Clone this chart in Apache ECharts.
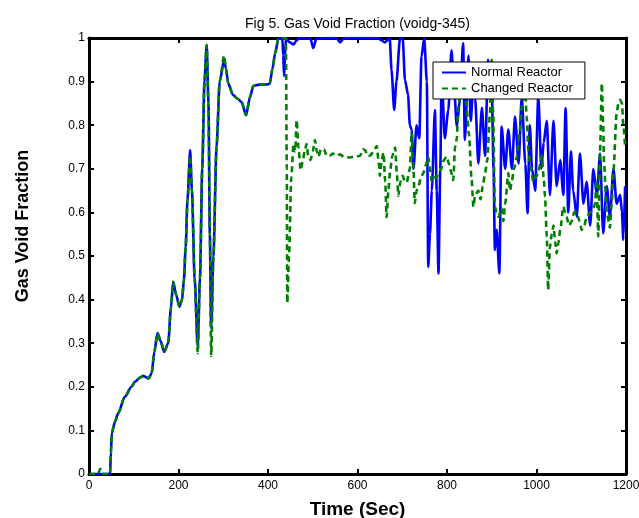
<!DOCTYPE html>
<html>
<head>
<meta charset="utf-8">
<script src="https://cdn.jsdelivr.net/npm/echarts@6/dist/echarts.min.js"></script>
<style>
html, body { margin: 0; padding: 0; background: #fff; }
#chart { width: 639px; height: 518px; }
</style>
</head>
<body>
<div id="chart"></div>
<script>
// time (sec) and void fraction
const normalTime = [0, 20, 47, 49, 51, 58, 65, 80, 95, 103, 115, 121, 133, 140, 146, 153, 160, 168, 177, 183, 188, 195, 202, 208, 212, 216, 220, 226, 230, 236, 243, 248, 253, 258, 263, 267, 270, 273, 278, 285, 292, 302, 306, 311, 322, 333, 341, 351, 360, 367, 380, 395, 404, 410, 416, 423, 432, 434, 436, 438, 440, 449, 457, 464, 472, 495, 501, 508, 530, 553, 561, 570, 600, 645, 653, 661, 672, 676, 682, 687, 695, 701, 706, 713, 717, 721, 725, 732, 738, 743, 749, 755, 758, 762, 766, 773, 777, 781, 785, 788, 795, 803, 810, 815, 822, 829, 836, 840, 848, 853, 858, 863, 870, 878, 885, 892, 900, 904, 907, 911, 917, 922, 930, 937, 945, 952, 960, 967, 975, 980, 985, 990, 997, 1004, 1011, 1016, 1023, 1030, 1038, 1045, 1053, 1060, 1065, 1071, 1077, 1082, 1090, 1097, 1105, 1112, 1120, 1127, 1135, 1142, 1149, 1157, 1164, 1172, 1179, 1187, 1191, 1194, 1198]
const normalVal = [0, 0, 0, 0.05, 0.094, 0.12, 0.139, 0.177, 0.2, 0.212, 0.222, 0.225, 0.219, 0.231, 0.28, 0.323, 0.305, 0.28, 0.30, 0.38, 0.441, 0.41, 0.384, 0.40, 0.445, 0.52, 0.628, 0.743, 0.65, 0.45, 0.292, 0.45, 0.7, 0.9, 0.984, 0.85, 0.55, 0.335, 0.5, 0.75, 0.9, 0.95, 0.93, 0.896, 0.869, 0.86, 0.853, 0.823, 0.865, 0.89, 0.893, 0.893, 0.895, 0.93, 0.965, 0.998, 1.0, 0.96, 0.913, 0.96, 0.998, 0.99, 0.985, 0.995, 1.0, 0.998, 0.977, 0.998, 1.0, 1.0, 0.99, 1.0, 1.0, 1.0, 0.995, 0.99, 1.0, 0.927, 0.835, 0.9, 1.0, 1.0, 0.904, 0.87, 0.8, 0.79, 0.70, 0.80, 0.77, 0.957, 1.0, 0.9, 0.475, 0.55, 0.65, 0.835, 0.65, 0.46, 0.7, 0.92, 0.77, 0.835, 0.972, 0.9, 0.797, 0.86, 0.988, 0.766, 0.96, 0.81, 0.88, 0.86, 0.712, 0.84, 0.73, 0.95, 0.89, 0.7, 0.514, 0.56, 0.46, 0.797, 0.70, 0.79, 0.70, 0.82, 0.712, 0.865, 0.712, 0.598, 0.80, 0.7, 0.65, 0.865, 0.70, 0.76, 0.81, 0.64, 0.81, 0.66, 0.72, 0.64, 0.839, 0.60, 0.74, 0.65, 0.59, 0.735, 0.62, 0.67, 0.57, 0.70, 0.64, 0.735, 0.552, 0.66, 0.59, 0.70, 0.62, 0.64, 0.6, 0.537, 0.66]

const changedTime = [0, 20, 25, 30, 47, 49, 51, 58, 65, 80, 95, 103, 115, 121, 133, 140, 146, 153, 160, 168, 177, 183, 188, 195, 202, 208, 212, 216, 220, 226, 230, 236, 243, 248, 253, 258, 263, 267, 270, 273, 278, 285, 292, 302, 306, 311, 322, 333, 341, 351, 360, 367, 380, 395, 404, 410, 416, 423, 432, 440, 442, 443, 447, 452, 457, 461, 464, 468, 473, 478, 482, 486, 490, 495, 500, 505, 509, 513, 518, 525, 531, 538, 545, 553, 561, 570, 583, 595, 606, 612, 617, 622, 628, 636, 643, 647, 650, 654, 658, 662, 665, 669, 673, 678, 684, 688, 691, 696, 701, 706, 710, 717, 721, 725, 728, 732, 736, 742, 747, 753, 758, 762, 766, 771, 776, 782, 787, 793, 799, 805, 810, 814, 818, 822, 825, 829, 836, 843, 849, 855, 859, 863, 870, 875, 880, 885, 890, 896, 900, 903, 907, 911, 915, 922, 926, 930, 937, 941, 945, 950, 956, 962, 967, 974, 978, 982, 987, 993, 998, 1004, 1008, 1012, 1016, 1019, 1023, 1026, 1030, 1034, 1038, 1042, 1045, 1049, 1053, 1060, 1064, 1067, 1073, 1079, 1084, 1090, 1096, 1101, 1107, 1112, 1120, 1127, 1131, 1134, 1138, 1142, 1146, 1149, 1151, 1157, 1164, 1168, 1172, 1179, 1183, 1187, 1191, 1194, 1198]
const changedVal = [0, 0, 0.012, 0, 0, 0.05, 0.094, 0.12, 0.139, 0.177, 0.2, 0.212, 0.222, 0.225, 0.219, 0.231, 0.28, 0.323, 0.305, 0.28, 0.30, 0.38, 0.441, 0.41, 0.384, 0.40, 0.445, 0.52, 0.628, 0.73, 0.65, 0.45, 0.277, 0.45, 0.7, 0.9, 0.984, 0.85, 0.55, 0.27, 0.5, 0.75, 0.9, 0.96, 0.93, 0.896, 0.869, 0.86, 0.853, 0.823, 0.865, 0.89, 0.893, 0.893, 0.895, 0.93, 0.965, 0.998, 1.0, 1.0, 0.7, 0.392, 0.5, 0.68, 0.757, 0.74, 0.812, 0.75, 0.697, 0.72, 0.74, 0.757, 0.73, 0.72, 0.74, 0.766, 0.74, 0.728, 0.745, 0.745, 0.73, 0.73, 0.735, 0.73, 0.733, 0.727, 0.726, 0.728, 0.73, 0.745, 0.743, 0.73, 0.73, 0.74, 0.752, 0.72, 0.684, 0.72, 0.737, 0.67, 0.589, 0.65, 0.697, 0.73, 0.749, 0.69, 0.638, 0.67, 0.684, 0.67, 0.669, 0.70, 0.784, 0.70, 0.621, 0.65, 0.66, 0.68, 0.69, 0.71, 0.728, 0.70, 0.67, 0.68, 0.68, 0.69, 0.70, 0.72, 0.728, 0.71, 0.69, 0.674, 0.75, 0.77, 0.842, 0.865, 0.9, 0.85, 0.78, 0.674, 0.613, 0.64, 0.65, 0.63, 0.66, 0.69, 0.72, 0.827, 0.95, 0.83, 0.613, 0.6, 0.59, 0.61, 0.58, 0.62, 0.69, 0.65, 0.674, 0.70, 0.728, 0.78, 0.842, 0.896, 0.82, 0.74, 0.7, 0.67, 0.68, 0.69, 0.71, 0.73, 0.68, 0.636, 0.545, 0.422, 0.52, 0.55, 0.57, 0.53, 0.506, 0.53, 0.56, 0.613, 0.6, 0.59, 0.57, 0.58, 0.6, 0.60, 0.58, 0.56, 0.57, 0.59, 0.6, 0.61, 0.62, 0.674, 0.545, 0.74, 0.896, 0.8, 0.71, 0.6, 0.565, 0.62, 0.697, 0.827, 0.85, 0.858, 0.85, 0.80, 0.75]

const seriesNames = ['Normal Reactor', 'Changed Reactor']
const xTicks = [0, 200, 400, 600, 800, 1000, 1200]
const yTicks = [0, 0.1, 0.2, 0.3, 0.4, 0.5, 0.6, 0.7, 0.8, 0.9, 1]

const pairs = (t, v) => t.map((x, i) => [x, v[i]])

const myChart = echarts.init(document.getElementById('chart'))

const font = 'Liberation Sans, Arial, Helvetica, sans-serif'
const axisLine = { show: true, onZero: false, lineStyle: { color: '#000', width: 3 } }
const tick = { show: true, inside: true, length: 5, lineStyle: { color: '#000', width: 2 } }

myChart.setOption({
    animation: false,
    textStyle: { fontFamily: font },
    grid: { left: 89, right: 13, top: 38, bottom: 44, outerBoundsMode: 'none' },
    legend: {
        data: seriesNames,
        orient: 'vertical',
        left: 433,
        top: 62,
        width: 152,
        padding: [4, 12, 4, 8],
        itemGap: 3,
        itemWidth: 24,
        itemHeight: 12,
        itemStyle: { opacity: 0 },
        backgroundColor: '#fff',
        borderColor: '#000',
        borderWidth: 1,
        borderRadius: 0,
        textStyle: { fontSize: 13, color: '#000', fontFamily: font }
    },
    xAxis: [{
        type: 'value',
        min: 0,
        max: 1200,
        interval: 200,
        axisLine: axisLine,
        axisTick: tick,
        splitLine: { show: false },
        axisLabel: {
            color: '#000', fontSize: 12, margin: 6,
            formatter: v => xTicks.includes(v) ? String(v) : ''
        },
        name: 'Time (Sec)',
        nameLocation: 'middle',
        nameGap: 26,
        nameTextStyle: { fontSize: 19, fontWeight: 'bold', color: '#000', fontFamily: font }
    }, {
        type: 'value',
        position: 'top',
        min: 0,
        max: 1200,
        interval: 200,
        axisLine: axisLine,
        axisTick: tick,
        splitLine: { show: false },
        axisLabel: { show: false },
        name: 'Fig 5. Gas Void Fraction (voidg-345)',
        nameLocation: 'middle',
        nameGap: 7,
        nameTextStyle: { fontSize: 14, color: '#000', fontFamily: font }
    }],
    yAxis: [{
        type: 'value',
        min: 0,
        max: 1,
        interval: 0.1,
        axisLine: axisLine,
        axisTick: tick,
        splitLine: { show: false },
        axisLabel: {
            color: '#000', fontSize: 12, margin: 4,
            formatter: v => {
                const t = yTicks.find(y => Math.abs(y - v) < 1e-6)
                return t === undefined ? '' : String(t)
            }
        }
    }, {
        type: 'value',
        position: 'right',
        min: 0,
        max: 1,
        interval: 0.1,
        axisLine: axisLine,
        axisTick: tick,
        splitLine: { show: false },
        axisLabel: { show: false }
    }],
    graphic: [{
        type: 'text',
        x: 23,
        y: 226,
        rotation: Math.PI / 2,
        style: {
            text: 'Gas Void Fraction',
            fontSize: 18,
            fontWeight: 'bold',
            fontFamily: font,
            fill: '#000',
            align: 'center',
            verticalAlign: 'middle'
        }
    }],
    series: [{
        name: seriesNames[0],
        type: 'line',
        data: pairs(normalTime, normalVal),
        showSymbol: false,
        symbol: 'none',
        smooth: 0.25,
        smoothMonotone: 'x',
        lineStyle: { color: '#0000ff', width: 2.6 },
        itemStyle: { color: '#0000ff' },
        z: 2
    }, {
        name: seriesNames[1],
        type: 'line',
        data: pairs(changedTime, changedVal),
        showSymbol: false,
        symbol: 'none',
        smooth: 0.25,
        smoothMonotone: 'x',
        lineStyle: { color: '#008000', width: 2.6, type: [6, 4] },
        itemStyle: { color: '#008000' },
        z: 3
    }]
})
</script>
</body>
</html>
